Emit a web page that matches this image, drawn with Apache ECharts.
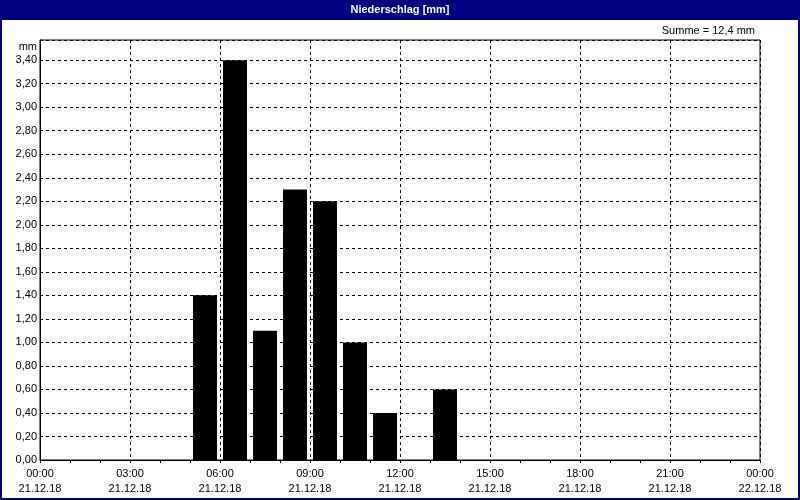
<!DOCTYPE html>
<html>
<head>
<meta charset="utf-8">
<script src="https://cdn.jsdelivr.net/npm/echarts@6/dist/echarts.min.js"></script>
<style>
html,body{margin:0;padding:0;background:#fff;}
#chart{width:800px;height:500px;}
</style>
</head>
<body>
<div id="chart"></div>
<script>
// Data
var hourStarts = [5, 6, 7, 8, 9, 10, 11, 12, 13];
var precipitation = [1.4, 3.4, 1.1, 2.3, 2.2, 1.0, 0.4, 0, 0.6];
var xTickTimes = ['00:00', '03:00', '06:00', '09:00', '12:00', '15:00', '18:00', '21:00', '00:00'];
var xTickDates = ['21.12.18', '21.12.18', '21.12.18', '21.12.18', '21.12.18', '21.12.18', '21.12.18', '21.12.18', '22.12.18'];
var titleText = 'Niederschlag [mm]';
var sumText = 'Summe = 12,4 mm';
var unitText = 'mm';

var FONT = 'Liberation Sans';
var chart = echarts.init(document.getElementById('chart'), null, {renderer: 'canvas'});

var barData = hourStarts.map(function (h, i) { return [h + 0.5, precipitation[i]]; });

chart.setOption({
  animation: false,
  backgroundColor: '#ffffff',
  textStyle: {fontFamily: FONT},
  grid: {left: 40, right: 40, top: 40, bottom: 40, show: true, borderColor: '#000', borderWidth: 1, backgroundColor: 'transparent'},
  xAxis: {
    type: 'value', min: 0, max: 24, interval: 3,
    axisLine: {show: true, lineStyle: {color: '#000', width: 1}},
    axisTick: {show: true, length: 3, lineStyle: {color: '#000'}},
    minorTick: {show: true, splitNumber: 3, length: 3, lineStyle: {color: '#000'}},
    splitLine: {show: true, lineStyle: {color: '#000', type: [3, 3], width: 1}},
    axisLabel: {
      color: '#000', fontFamily: FONT, fontSize: 11, margin: 6, lineHeight: 15,
      formatter: function (v) { var i = Math.round(v / 3); return xTickTimes[i] + '\n' + xTickDates[i]; }
    }
  },
  yAxis: {
    type: 'value', min: 0, max: 3.5714, interval: 0.2,
    axisLine: {show: true, lineStyle: {color: '#000', width: 1}},
    axisTick: {show: false},
    splitLine: {show: true, lineStyle: {color: '#000', type: [3, 3], width: 1}},
    axisLabel: {
      color: '#000', fontFamily: FONT, fontSize: 11, margin: 3,
      formatter: function (v) { if (v > 3.45) return ''; return v.toFixed(2).replace('.', ','); }
    }
  },
  series: [{
    type: 'bar',
    data: barData,
    barWidth: 24,
    itemStyle: {color: '#000000'},
    z: 3
  }],
  graphic: [
    {type: 'rect', shape: {x: 0, y: 0, width: 800, height: 20}, style: {fill: '#000080'}, z: 10},
    {type: 'text', left: 'center', top: 4, style: {text: titleText, fill: '#ffffff', font: 'bold 11px "' + FONT + '"'}, z: 11},
    {type: 'rect', shape: {x: 1, y: 1, width: 798, height: 498}, style: {fill: 'none', stroke: '#000080', lineWidth: 2}, z: 10},
    {type: 'text', right: 45, top: 25, style: {text: sumText, fill: '#000', font: '11px "' + FONT + '"'}, z: 11},
    {type: 'text', right: 763, top: 41, style: {text: unitText, fill: '#000', font: '11px "' + FONT + '"'}, z: 11}
  ]
});
</script>
</body>
</html>
